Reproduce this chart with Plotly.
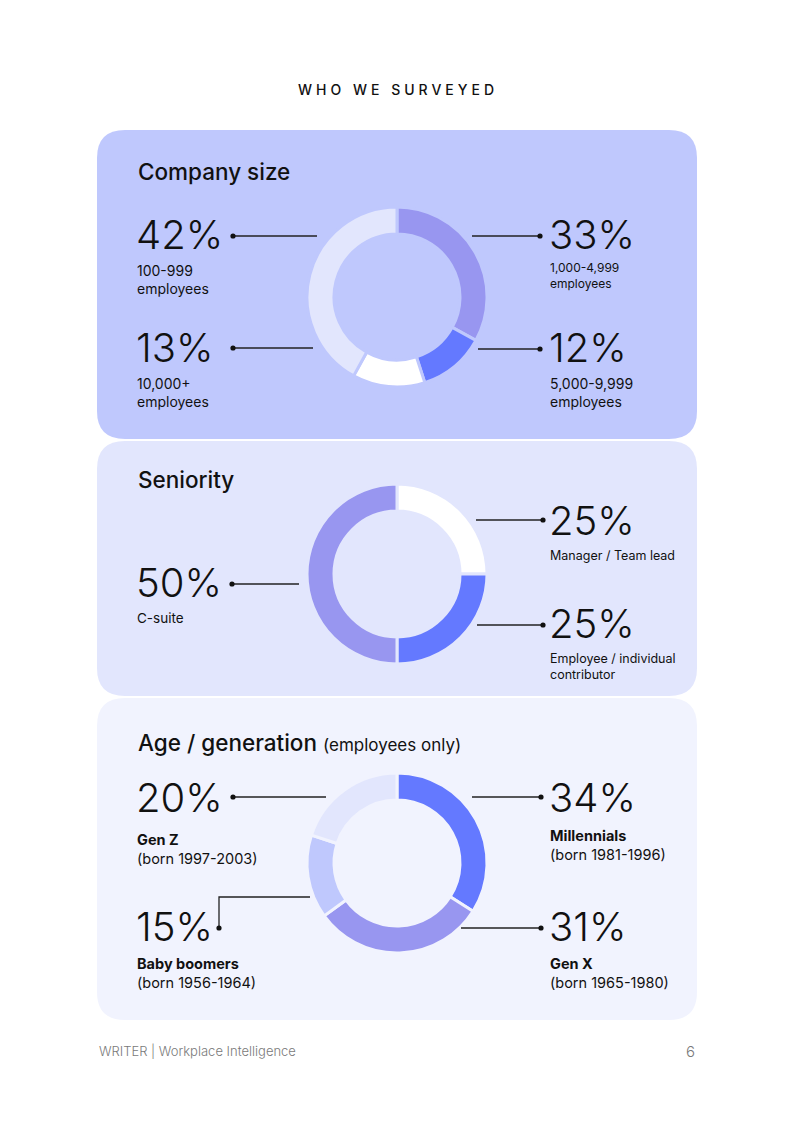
import plotly.graph_objects as go

W, H = 793, 1122
OFF = 8  # page body margin of the browser

# ---- data ----
size_values = [33, 12, 13, 42]
size_labels = ["1,000-4,999<br>employees", "5,000-9,999<br>employees",
               "10,000+<br>employees", "100-999<br>employees"]

seniority_values = [25, 25, 50]
seniority_labels = ["Manager / Team lead", "Employee / individual<br>contributor", "C-suite"]

age_values = [34, 31, 15, 20]
age_names = ["Millennials", "Gen X", "Baby boomers", "Gen Z"]
age_born = ["(born 1981-1996)", "(born 1965-1980)", "(born 1956-1964)", "(born 1997-2003)"]
age_labels = [f"<b>{n}</b><br>{b}" for n, b in zip(age_names, age_born)]

# ---- colours ----
PURPLE = "#9896F0"
BLUE = "#6479FF"
LIGHT = "#BFC8FD"
PALE = "#E2E6FD"
PALEST = "#F1F3FE"
WHITE = "#FFFFFF"
INK = "#111111"
FONT = "Inter"

panels = [
    # (x0, y0, x1, y1, fill)
    (97, 130, 697, 439, LIGHT),
    (97, 441, 697, 696, PALE),
    (97, 698, 697, 1020, PALEST),
]

# donut centres in page pixels, outer radius
donuts = [
    dict(values=size_values, colors=[PURPLE, BLUE, WHITE, PALE], cx=397, cy=297, bg=LIGHT),
    dict(values=seniority_values, colors=[WHITE, BLUE, PURPLE], cx=397, cy=574, bg=PALE),
    dict(values=age_values, colors=[BLUE, PURPLE, LIGHT, PALE], cx=397, cy=863, bg=PALEST),
]
R = 90

# callout placement: number position, label position, connector path
size_pos = [
    dict(x=547, ny=234, ly=275, lsize=12, path=[(472, 236), (540, 236)]),
    dict(x=547, ny=347, ly=392, lsize=14, path=[(478, 349), (540, 349)]),
    dict(x=134, ny=347, ly=392, lsize=14, path=[(313, 348), (233, 348)]),
    dict(x=134, ny=234, ly=279, lsize=14, path=[(317, 236), (233, 236)]),
]
seniority_pos = [
    dict(x=547, ny=520, ly=555, lsize=12.5, path=[(476, 520), (543, 520)]),
    dict(x=547, ny=623, ly=666, lsize=12.5, path=[(477, 625), (543, 625)]),
    dict(x=134, ny=582, ly=618, lsize=13.5, path=[(299, 584), (232, 584)]),
]
age_pos = [
    dict(x=547, ny=797, ly=845, lsize=14.5, path=[(472, 797), (541, 797)]),
    dict(x=547, ny=926, ly=973, lsize=14.5, path=[(461, 928), (541, 928)]),
    dict(x=134, ny=926, ly=973, lsize=14.5, path=[(310, 897), (219, 897), (219, 928)]),
    dict(x=134, ny=797, ly=849, lsize=14.5, path=[(326, 797), (233, 797)]),
]


def rounded_rect(x0, y0, x1, y1, r):
    return (f"M{x0+r},{y0} L{x1-r},{y0} Q{x1},{y0} {x1},{y0+r} "
            f"L{x1},{y1-r} Q{x1},{y1} {x1-r},{y1} L{x0+r},{y1} "
            f"Q{x0},{y1} {x0},{y1-r} L{x0},{y0+r} Q{x0},{y0} {x0+r},{y0} Z")


fig = go.Figure()

# background axis in page pixels (invisible)
fig.add_trace(go.Scatter(x=[OFF, W + OFF], y=[OFF, H + OFF], mode="markers",
                         marker=dict(opacity=0), hoverinfo="skip", showlegend=False))

shapes = []
for x0, y0, x1, y1, c in panels:
    shapes.append(dict(type="path", path=rounded_rect(x0, y0, x1, y1, 28),
                       xref="x", yref="y", fillcolor=c, line=dict(width=0), layer="below"))

for d in donuts:
    cx, cy = d["cx"] - OFF, d["cy"] - OFF
    fig.add_trace(go.Pie(
        values=d["values"], sort=False, direction="clockwise", rotation=0,
        hole=0.70, textinfo="none", hoverinfo="skip", showlegend=False,
        marker=dict(colors=d["colors"], line=dict(color=d["bg"], width=3)),
        domain=dict(x=[(cx - R) / W, (cx + R) / W],
                    y=[1 - (cy + R) / H, 1 - (cy - R) / H]),
    ))

annotations = []


def add_text(x, y, text, size, color=INK, weight=400, anchor="left", yanchor="middle"):
    annotations.append(dict(x=x, y=y, xref="x", yref="y", text=text, showarrow=False,
                            xanchor=anchor, yanchor=yanchor, align=anchor,
                            font=dict(family=FONT, size=size, color=color, weight=weight)))


def add_callouts(values, labels, positions):
    for v, lab, p in zip(values, labels, positions):
        add_text(p["x"], p["ny"], f"{v}%", 40, weight=300)
        add_text(p["x"] + 1, p["ly"], lab, p["lsize"])
        pts = p["path"]
        path = "M" + " L".join(f"{a},{b}" for a, b in pts)
        shapes.append(dict(type="path", path=path, xref="x", yref="y",
                           line=dict(color="#222222", width=1.3)))
        ex, ey = pts[-1]
        shapes.append(dict(type="circle", xref="x", yref="y",
                           x0=ex - 2.6, x1=ex + 2.6, y0=ey - 2.6, y1=ey + 2.6,
                           fillcolor=INK, line=dict(width=0)))


add_callouts(size_values, size_labels, size_pos)
add_callouts(seniority_values, seniority_labels, seniority_pos)
add_callouts(age_values, age_labels, age_pos)

# titles
add_text(398, 89, "<span style='letter-spacing:4px'>WHO WE SURVEYED</span>", 14,
         weight=500, anchor="center")
add_text(136, 171, "Company size", 22.5, weight=500)
add_text(136, 479, "Seniority", 22.5, weight=500)
add_text(136, 742, "Age / generation <span style='font-size:17px;font-weight:400'>(employees only)</span>",
         22.5, weight=500)

# footer
add_text(97, 1051, "WRITER | Workplace Intelligence", 13, color="#7a7a7a", weight=300)
add_text(697, 1051, "6", 15, color="#7a7a7a", weight=300, anchor="right")

fig.update_layout(
    width=W, height=H,
    margin=dict(l=0, r=0, t=0, b=0),
    paper_bgcolor="white", plot_bgcolor="rgba(0,0,0,0)",
    xaxis=dict(range=[OFF, W + OFF], visible=False, fixedrange=True),
    yaxis=dict(range=[H + OFF, OFF], visible=False, fixedrange=True),
    shapes=shapes, annotations=annotations,
    showlegend=False,
)

fig.write_html("out.html")
